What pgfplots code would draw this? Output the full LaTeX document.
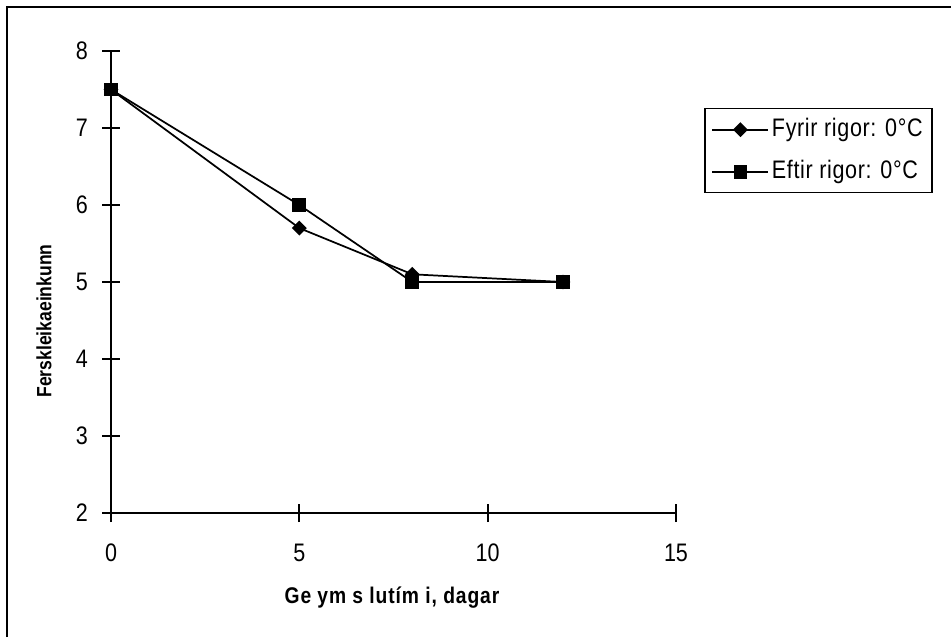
\documentclass[border=0pt]{standalone}
\usepackage{fontspec}
\setmainfont{Liberation Sans}[FakeStretch=0.85]
\newfontfamily\legfont{Liberation Sans}[FakeStretch=0.85, LetterSpace=2.5]
\newfontfamily\labfont{Liberation Sans}[FakeStretch=0.85, LetterSpace=4]
\usepackage{pgfplots}
\pgfplotsset{compat=1.18}

% storage-time series (days vs. freshness score)
\pgfplotstableread{
t score
0 7.5
5 5.7
8 5.1
12 5.0
}\fyrir
\pgfplotstableread{
t score
0 7.5
5 6.0
8 5.0
12 5.0
}\eftir

\begin{document}
\begin{tikzpicture}
\useasboundingbox (0pt,0pt) rectangle (713.25pt,-477.75pt);
% frame around the chart area
\draw[line width=1.3pt] (5.25pt,-477.75pt) -- (5.25pt,-5.25pt) -- (713.25pt,-5.25pt);

\begin{axis}[
  at={(83.25pt,-384.75pt)}, anchor=south west,
  scale only axis, width=423.75pt, height=346.5pt,
  xmin=0, xmax=15, ymin=2, ymax=8,
  axis lines*=left,
  axis line style={line width=1.3pt},
  xtick={0,5,10,15}, ytick={2,3,4,5,6,7,8},
  tick align=center, major tick length=13.5pt,
  tick style={line width=1.3pt, black},
  /pgf/number format/assume math mode=true,
  tick label style={font=\fontsize{19}{22}\selectfont, inner sep=0pt},
  yticklabel style={anchor=east, xshift=-10.5pt},
  xticklabel style={anchor=north, yshift=-16.5pt},
  clip=false,
  legend style={
    at={(1.05,0.8766)}, anchor=north west,
    draw=black, line width=1pt, inner xsep=5pt, inner ysep=5pt,
    font=\legfont\fontsize{19}{22}\selectfont,
    row sep=10pt,
    nodes={inner sep=2pt, text height=13.5pt, text depth=4pt},
  },
  legend cell align=left,
  legend image code/.code={%
    \draw[mark repeat=2,mark phase=2,#1] plot coordinates {(0pt,0pt) (21pt,0pt) (42pt,0pt)};},
]
\addplot[black, line width=1.3pt, mark=square*, mark size=3.3pt,
  mark options={rotate=45, solid}] table[x=t, y=score] {\fyrir};
\addlegendentry{Fyrir rigor: 0°C}
\addplot[black, line width=1.3pt, mark=square*, mark size=4.5pt,
  mark options={solid}] table[x=t, y=score] {\eftir};
\addlegendentry{Eftir rigor: 0°C}
\end{axis}

\node[font=\labfont\bfseries\fontsize{17}{20}\selectfont] at (294pt,-448pt) {Ge ym s lutím i, dagar};
\node[font=\bfseries\fontsize{15.5}{18}\selectfont, rotate=90] at (33pt,-240.75pt) {Ferskleikaeinkunn};
\end{tikzpicture}
\end{document}
